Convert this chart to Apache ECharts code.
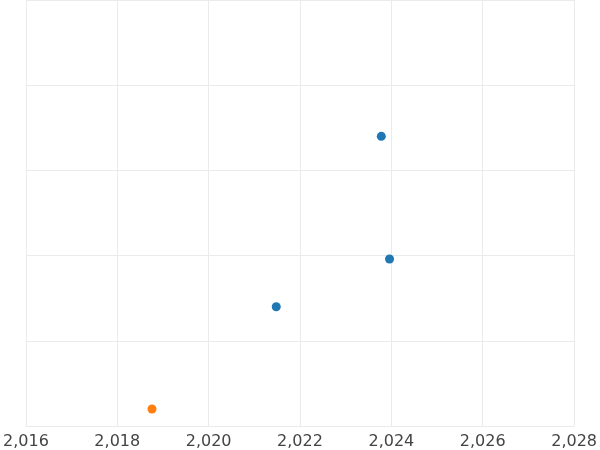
<!DOCTYPE html>
<html><head><meta charset="utf-8">
<script src="https://cdn.jsdelivr.net/npm/echarts@6/dist/echarts.min.js"></script>
<style>html,body{margin:0;padding:0;background:#fff;overflow:hidden}#c{width:600px;height:450px}</style>
</head><body><div id="c"></div>
<script>
const xTickInterval = 2;
const yTickInterval = 1;
const blueX = [2023.78, 2023.96, 2021.48];
const blueY = [2.4, 0.96, 0.4];
const orangeX = [2018.76];
const orangeY = [-0.8];
const chart = echarts.init(document.getElementById('c'));
chart.setOption({
  animation: false,
  grid: {left: -45.6, right: -65, top: -75.5, bottom: 24, containLabel: false},
  xAxis: {
    type: 'value', min: 2016, max: 2028, interval: xTickInterval,
    axisLine: {show: false}, axisTick: {show: false},
    axisLabel: {color: '#444', fontSize: 16, fontFamily: 'DejaVu Sans', margin: 8},
    splitLine: {show: true, lineStyle: {color: '#ebebeb', width: 1}}
  },
  yAxis: {
    type: 'value', min: -1, max: 4, interval: yTickInterval,
    axisLine: {show: false}, axisTick: {show: false},
    axisLabel: {show: false},
    splitLine: {show: true, lineStyle: {color: '#ebebeb', width: 1}}
  },
  series: [
    {type: 'scatter', symbolSize: 9, itemStyle: {color: '#1f77b4', opacity: 1},
     data: blueX.map((x, i) => [x, blueY[i]])},
    {type: 'scatter', symbolSize: 9, itemStyle: {color: '#ff7f0e', opacity: 1},
     data: orangeX.map((x, i) => [x, orangeY[i]])}
  ]
});
</script></body></html>
